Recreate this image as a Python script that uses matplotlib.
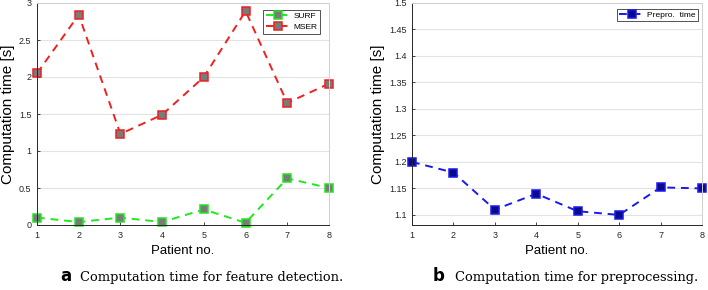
import numpy as np
import matplotlib.pyplot as plt

# data
patients = [1, 2, 3, 4, 5, 6, 7, 8]
surf_time = [0.10, 0.04, 0.10, 0.04, 0.21, 0.03, 0.63, 0.50]
mser_time = [2.05, 2.84, 1.23, 1.49, 2.00, 2.89, 1.65, 1.91]
prepro_time = [1.200, 1.180, 1.110, 1.140, 1.107, 1.100, 1.152, 1.150]

left_yticks = [0, 0.5, 1, 1.5, 2, 2.5, 3]
left_yticklabels = ['0', '0.5', '1', '1.5', '2', '2.5', '3']
right_yticks = [1.1, 1.15, 1.2, 1.25, 1.3, 1.35, 1.4, 1.45, 1.5]
right_yticklabels = ['1.1', '1.15', '1.2', '1.25', '1.3', '1.35', '1.4', '1.45', '1.5']

plt.rcParams['font.family'] = ['Liberation Sans', 'DejaVu Sans']

fig = plt.figure(figsize=(7.08, 2.9), dpi=100)
ax1 = fig.add_axes([37 / 708, 1 - 225 / 290, 292 / 708, 222 / 290])
ax2 = fig.add_axes([412 / 708, 1 - 225 / 290, 290 / 708, 222 / 290])


def style_axes(ax):
    ax.grid(True, axis='y', color='#e3e3e3', linewidth=0.8)
    ax.set_axisbelow(True)
    ax.tick_params(direction='in', labelsize=6.5, length=2.5, width=0.6,
                   colors='#262626', pad=4)
    for side in ['top', 'right']:
        ax.spines[side].set_color('#d0d0d0')
        ax.spines[side].set_linewidth(0.7)
    for side in ['left', 'bottom']:
        ax.spines[side].set_color('#262626')
        ax.spines[side].set_linewidth(0.7)
    ax.set_xlim(1, 8)
    ax.set_xticks(patients)
    ax.set_xlabel('Patient no.', fontsize=9.5, labelpad=4)
    ax.set_ylabel('Computation time [s]', fontsize=11, labelpad=3)


# (a) feature detection
ax1.plot(patients, surf_time, linestyle='--', color='#22e622', linewidth=1.4,
         dashes=(4, 3), marker='s', markersize=5.2, markerfacecolor='#7a7a7a',
         markeredgecolor='#22e622', markeredgewidth=1.1, label='SURF', clip_on=False)
ax1.plot(patients, mser_time, linestyle='--', color='#ee2020', linewidth=1.4,
         dashes=(4, 3), marker='s', markersize=5.2, markerfacecolor='#7a7a7a',
         markeredgecolor='#ee2020', markeredgewidth=1.1, label='MSER', clip_on=False)
style_axes(ax1)
ax1.set_ylim(0, 3)
ax1.set_yticks(left_yticks)
ax1.set_yticklabels(left_yticklabels)
leg1 = ax1.legend(loc='upper right', bbox_to_anchor=(0.97, 0.97), fontsize=6,
                  frameon=True, fancybox=False, edgecolor='#262626',
                  handlelength=3, handletextpad=0.3, borderpad=0.35,
                  labelspacing=0.3, borderaxespad=0)
leg1.get_frame().set_linewidth(0.7)

# (b) preprocessing
ax2.plot(patients, prepro_time, linestyle='--', color='#1a1aee', linewidth=1.4,
         dashes=(4, 3), marker='s', markersize=5.2, markerfacecolor='#0a0a8a',
         markeredgecolor='#1a1aee', markeredgewidth=1.1, label='Prepro.  time',
         clip_on=False)
style_axes(ax2)
ax2.set_ylim(1.081, 1.5)
ax2.set_yticks(right_yticks)
ax2.set_yticklabels(right_yticklabels)
leg2 = ax2.legend(loc='upper right', bbox_to_anchor=(0.985, 0.975), fontsize=6,
                  frameon=True, fancybox=False, edgecolor='#262626',
                  handlelength=3, handletextpad=0.3, borderpad=0.3,
                  borderaxespad=0)
leg2.get_frame().set_linewidth(0.7)

# captions
fig.text(60 / 708, 1 - 281 / 290, r'$\mathbf{a}$', fontsize=12, family='DejaVu Serif',
         va='baseline', ha='left')
fig.text(80 / 708, 1 - 281 / 290, 'Computation time for feature detection.',
         fontsize=9.4, family='DejaVu Serif', va='baseline', ha='left')
fig.text(432 / 708, 1 - 281 / 290, r'$\mathbf{b}$', fontsize=12, family='DejaVu Serif',
         va='baseline', ha='left')
fig.text(455 / 708, 1 - 281 / 290, 'Computation time for preprocessing.',
         fontsize=9.4, family='DejaVu Serif', va='baseline', ha='left')

fig.savefig('out.png', dpi=100)
